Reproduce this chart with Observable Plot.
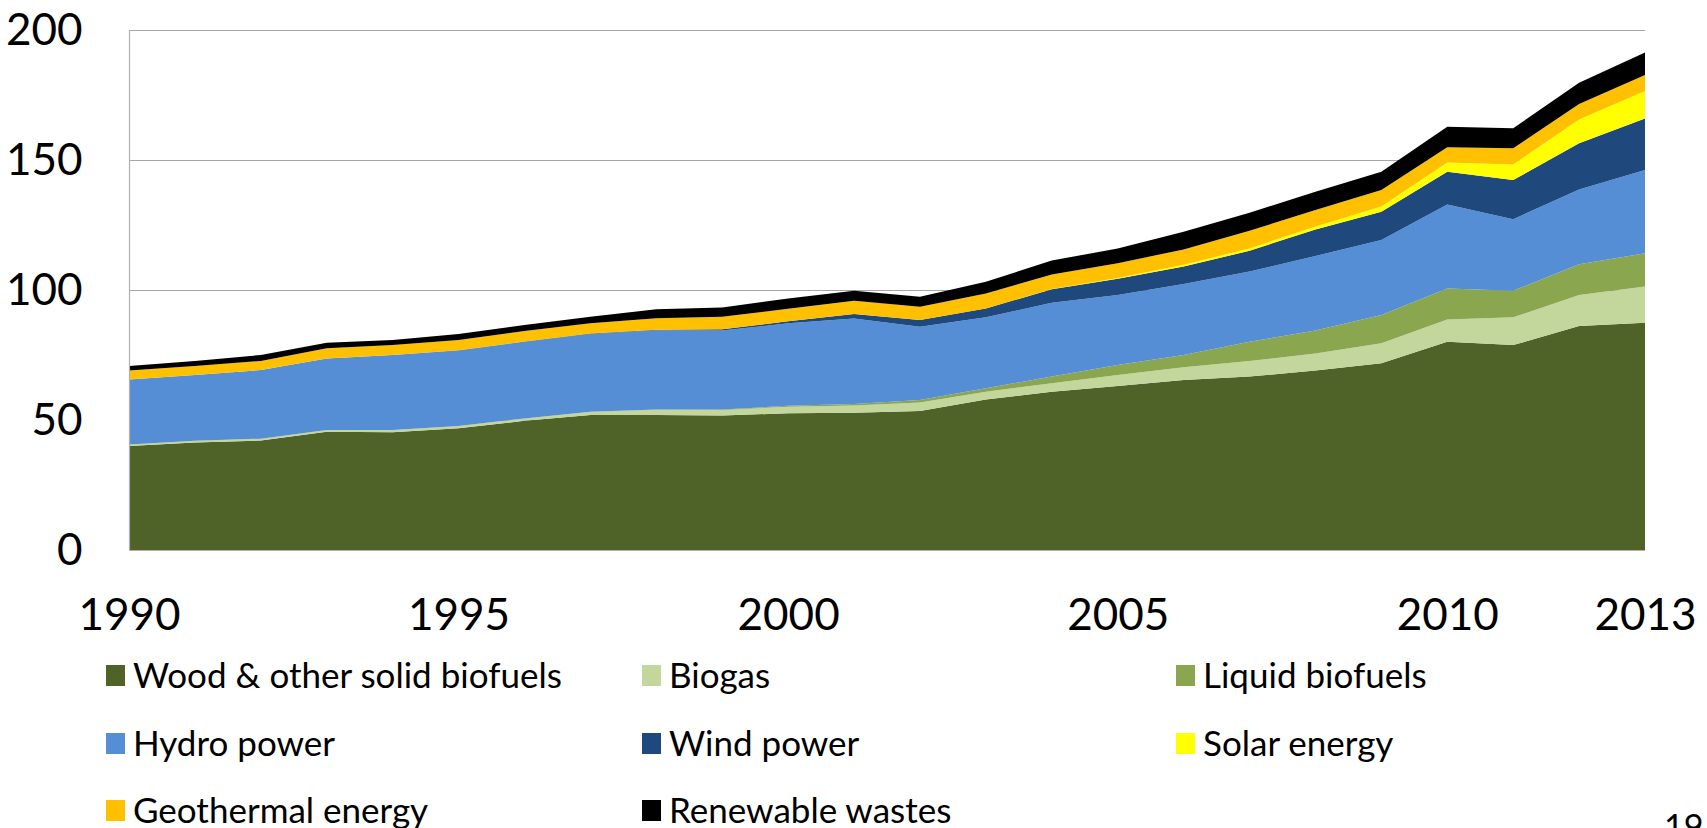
<!DOCTYPE html>
<html>
<head>
<meta charset="utf-8">
<script src="https://cdn.jsdelivr.net/npm/d3@7"></script>
<script src="https://cdn.jsdelivr.net/npm/@observablehq/plot@0.6"></script>
<style>
  html, body { margin: 0; padding: 0; background: #fff; width: 1707px; height: 828px; overflow: hidden; }
  #wrap { position: relative; width: 1707px; height: 828px; font-family: Lato, "Open Sans", sans-serif; color: #000; }
  #chart { position: absolute; left: 0; top: 0; }
  .item { position: absolute; height: 40px; line-height: 40px; font-size: 35px; white-space: nowrap; }
  .sw { position: absolute; width: 19px; height: 21px; }
  #pg { position: absolute; left: 1664px; top: 806px; font-size: 34px; line-height: 40px; }
</style>
</head>
<body>
<div id="wrap">
  <div id="chart"></div>
  <div id="legend"></div>
  <div id="pg">19</div>
</div>
<script>
const years = [1990,1991,1992,1993,1994,1995,1996,1997,1998,1999,2000,2001,2002,2003,2004,2005,2006,2007,2008,2009,2010,2011,2012,2013];

const seriesNames = ["Wood & other solid biofuels","Biogas","Liquid biofuels","Hydro power","Wind power","Solar energy","Geothermal energy","Renewable wastes"];
const seriesColors = ["#4F6228","#C3D69B","#8AA64E","#558ED5","#1F497D","#FFFF00","#FFC000","#000000"];

const wood       = [40.0,41.3,42.1,45.5,45.3,46.8,49.7,51.9,51.9,51.7,52.6,52.8,53.5,57.9,60.9,63.1,65.4,66.7,69.0,71.8,80.1,78.8,86.2,87.4];
const biogas     = [0.6,0.7,0.7,0.7,0.9,0.9,0.9,1.3,2.0,2.1,2.5,2.8,3.2,3.0,3.2,4.2,4.9,6.0,6.6,7.7,8.6,10.7,11.9,13.9];
const liquid     = [0,0,0,0,0,0,0,0,0.1,0.2,0.4,0.6,1.0,1.3,2.6,3.9,4.7,7.4,8.8,10.9,11.9,10.2,11.8,12.8];
const hydro      = [25.0,25.3,26.4,27.5,28.8,29.0,29.5,29.9,30.5,30.4,31.7,32.8,28.2,27.3,28.4,26.9,27.3,27.0,28.7,28.8,32.3,27.5,28.8,32.1];
const wind       = [0,0,0,0,0,0.1,0.1,0.2,0.2,0.5,0.8,1.8,2.6,3.4,5.2,6.2,6.7,8.0,10.2,10.9,12.6,15.1,17.7,19.8];
const solar      = [0,0,0,0,0,0,0,0,0,0,0,0,0,0,0.1,0.3,0.7,0.9,1.1,2.0,3.5,6.0,9.2,10.5];
const geothermal = [3.4,3.5,3.5,3.9,3.8,4.0,4.0,3.9,4.4,4.8,4.8,5.1,5.1,5.8,5.6,5.7,5.9,6.8,6.4,6.4,5.9,6.2,5.9,6.2];
const wastes     = [1.8,1.9,2.3,2.1,2.0,2.3,2.3,2.5,3.5,3.6,3.9,3.8,3.8,4.5,5.3,5.7,6.8,6.9,7.0,7.0,7.9,7.7,8.2,8.6];

const xTicks = [1990,1995,2000,2005,2010,2013];
const yTicks = [0,50,100,150,200];
const gridValues = [50,100,150,200];

const seriesValues = [wood, biogas, liquid, hydro, wind, solar, geothermal, wastes];
const data = [];
seriesNames.forEach((name, i) => {
  years.forEach((yr, j) => data.push({year: yr, series: name, value: seriesValues[i][j]}));
});

const chart = Plot.plot({
  width: 1707,
  height: 650,
  marginLeft: 129,
  marginRight: 62,
  marginTop: 30,
  marginBottom: 100,
  style: {fontFamily: "Lato, 'Open Sans', sans-serif", color: "#000", background: "#fff"},
  x: {domain: [1990, 2013], type: "linear"},
  y: {domain: [0, 200]},
  color: {domain: seriesNames, range: seriesColors},
  marks: [
    Plot.ruleY(gridValues, {stroke: "#a6a6a6", strokeWidth: 1.2}),
    Plot.areaY(data, Plot.stackY({order: seriesNames}, {x: "year", y: "value", z: "series", fill: "series"})),
    Plot.ruleX([1990], {stroke: "#b0b0b0", strokeWidth: 1.2}),
    Plot.ruleY([0], {stroke: "#b0b0b0", strokeWidth: 1}),
    Plot.axisX({ticks: xTicks, tickSize: 0, tickPadding: 48, fontSize: 44, tickFormat: d => String(d), label: null}),
    Plot.axisY({ticks: yTicks, tickSize: 0, tickPadding: 47, fontSize: 44, label: null})
  ]
});
document.getElementById("chart").appendChild(chart);

// legend (HTML, below the chart)
const colX = [106, 642, 1176];
const rowY = [675, 743, 810];
const legend = document.getElementById("legend");
seriesNames.forEach((name, i) => {
  const c = i % 3, r = Math.floor(i / 3);
  const sw = document.createElement("div");
  sw.className = "sw";
  sw.style.left = colX[c] + "px";
  sw.style.top = (rowY[r] - 10.5) + "px";
  sw.style.background = seriesColors[i];
  legend.appendChild(sw);
  const t = document.createElement("div");
  t.className = "item";
  t.style.left = (colX[c] + 27) + "px";
  t.style.top = (rowY[r] - 21) + "px";
  t.textContent = name;
  legend.appendChild(t);
});
</script>
</body>
</html>
